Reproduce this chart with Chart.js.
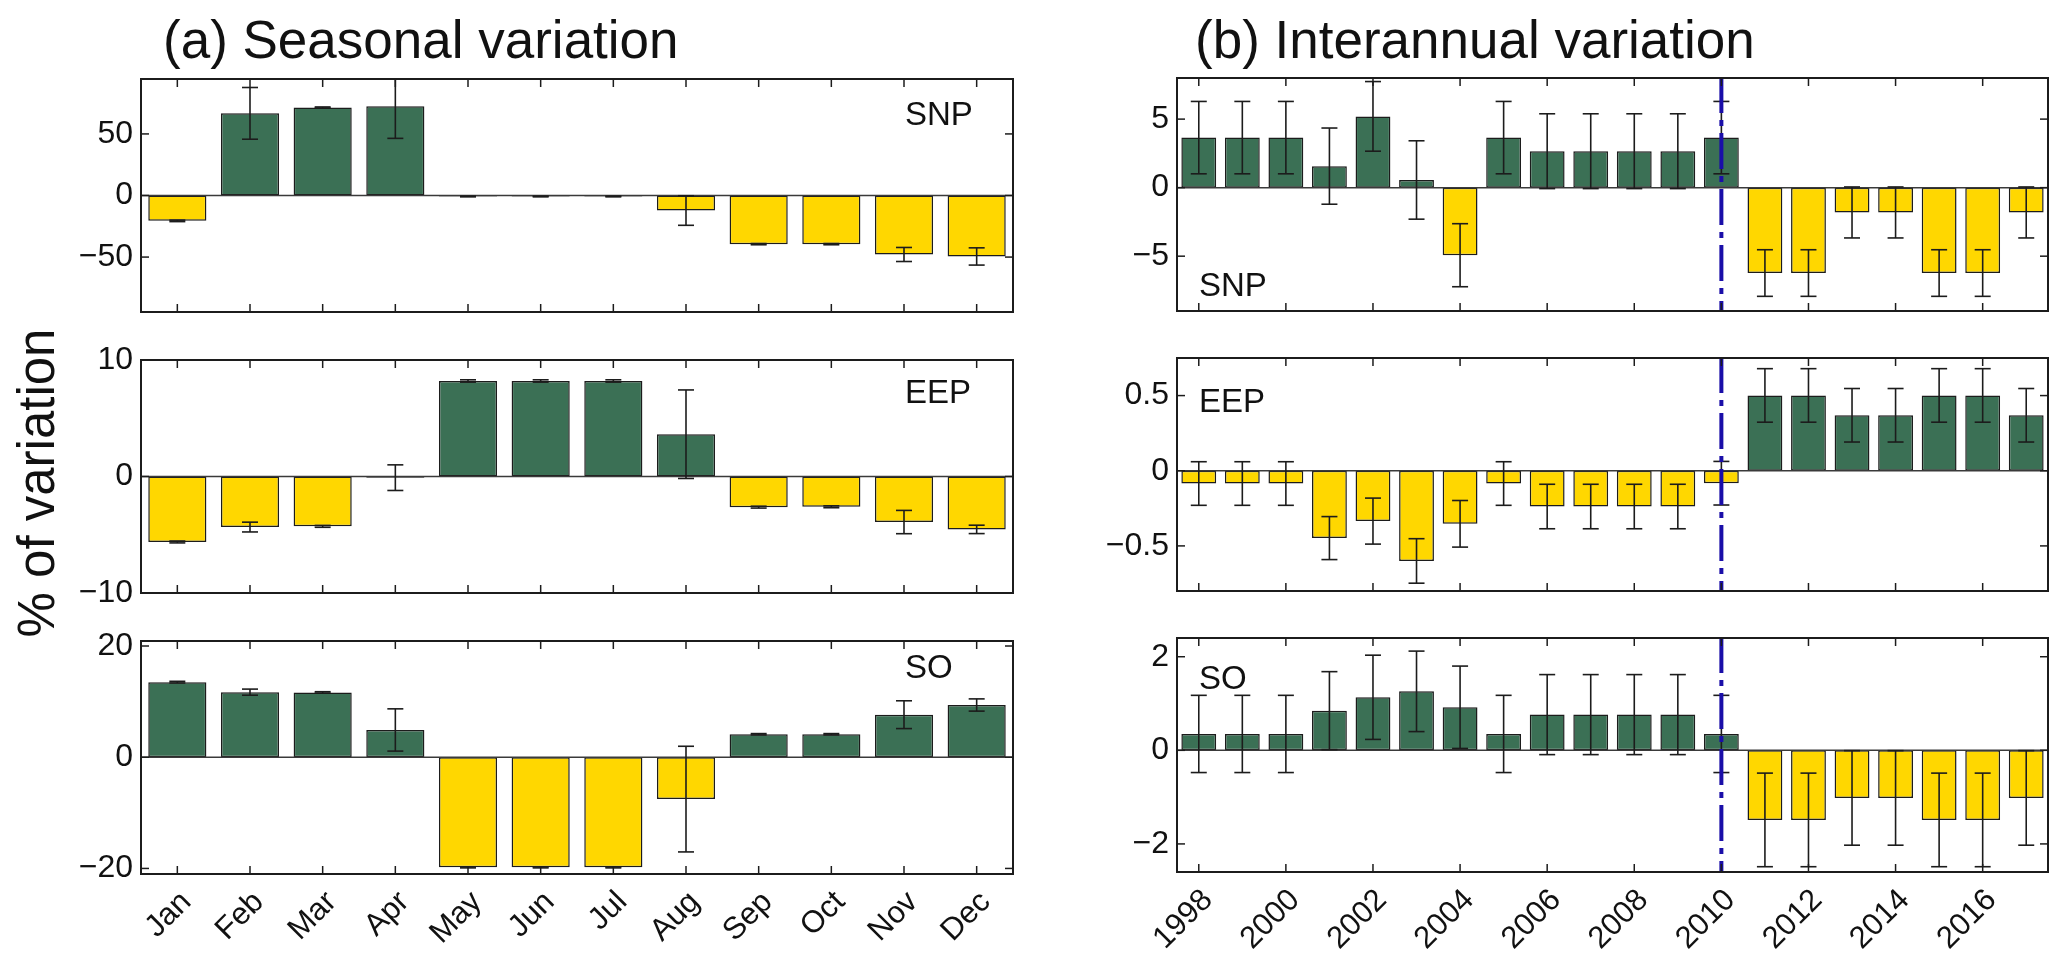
<!DOCTYPE html>
<html>
<head>
<meta charset="utf-8">
<script src="https://cdn.jsdelivr.net/npm/chart.js@4.4.1/dist/chart.umd.min.js"></script>
<style>
  body { margin: 0; background: #fff; width: 2067px; height: 974px; position: relative; overflow: hidden;
         font-family: "Liberation Sans", Arial, sans-serif; color: #111; }
  canvas { position: absolute; }
  .title { position: absolute; font-size: 53px; line-height: 53px; white-space: nowrap; }
  #ylab { position: absolute; left: -163px; top: 453px; width: 400px; height: 60px; line-height: 60px;
          text-align: center; font-size: 51px; white-space: nowrap; transform: rotate(-90deg); }
</style>
</head>
<body>
<div class="title" style="left:163px;top:13px">(a) Seasonal variation</div>
<div class="title" style="left:1195px;top:13px">(b) Interannual variation</div>
<div id="ylab">% of variation</div>

<script>
// categories
const months = ["Jan", "Feb", "Mar", "Apr", "May", "Jun", "Jul", "Aug", "Sep", "Oct", "Nov", "Dec"];
const years = ["1998", "1999", "2000", "2001", "2002", "2003", "2004", "2005", "2006", "2007",
               "2008", "2009", "2010", "2011", "2012", "2013", "2014", "2015", "2016", "2017"];

// (a) seasonal variation, % of variation and error half-widths
const seasonSNP    = [-20.6, 66.7, 71.5, 72.4, -0.8, -0.8, -0.8, -12.2, -39.5, -39.5, -47.9, -49.5];
const seasonSNPErr = [0.6, 21, 0.4, 26, 0.3, 0.3, 0.3, 12, 0.5, 0.5, 5.7, 7];
const seasonEEP    = [-5.62, -4.34, -4.28, -0.1, 8.2, 8.2, 8.2, 3.63, -2.63, -2.6, -3.91, -4.54];
const seasonEEPErr = [0.08, 0.42, 0.08, 1.1, 0.1, 0.1, 0.1, 3.8, 0.08, 0.08, 1.0, 0.36];
const seasonSO     = [13.5, 11.7, 11.66, 4.9, -19.8, -19.8, -19.8, -7.53, 4.13, 4.13, 7.65, 9.39];
const seasonSOErr  = [0.15, 0.55, 0.12, 3.8, 0.1, 0.1, 0.1, 9.5, 0.12, 0.12, 2.5, 1.1];

// (b) interannual variation
const annualSNP    = [3.65, 3.65, 3.65, 1.57, 5.2, 0.56, -4.93, 3.65, 2.66, 2.66,
                      2.66, 2.66, 3.65, -6.23, -6.23, -1.81, -1.81, -6.23, -6.23, -1.81];
const annualSNPErr = [2.64, 2.64, 2.64, 2.78, 2.54, 2.86, 2.3, 2.64, 2.73, 2.73,
                      2.73, 2.73, 2.64, 1.7, 1.7, 1.86, 1.86, 1.7, 1.7, 1.86];
const annualEEP    = [-0.085, -0.085, -0.085, -0.448, -0.335, -0.6, -0.353, -0.085, -0.238, -0.238,
                      -0.238, -0.238, -0.083, 0.501, 0.501, 0.369, 0.369, 0.501, 0.501, 0.369];
const annualEEPErr = [0.145, 0.145, 0.145, 0.143, 0.153, 0.148, 0.155, 0.145, 0.148, 0.148,
                      0.148, 0.148, 0.145, 0.178, 0.178, 0.178, 0.178, 0.178, 0.178, 0.178];
const annualSO     = [0.35, 0.35, 0.35, 0.848, 1.133, 1.26, 0.92, 0.35, 0.763, 0.763,
                      0.763, 0.763, 0.35, -1.487, -1.487, -1.017, -1.017, -1.487, -1.487, -1.017];
const annualSOErr  = [0.825, 0.825, 0.825, 0.833, 0.9, 0.86, 0.88, 0.825, 0.855, 0.855,
                      0.855, 0.855, 0.825, 1.0, 1.0, 1.01, 1.01, 1.0, 1.0, 1.01];

// y tick labels per panel
const ticksSeasonSNP = [-50, 0, 50];
const ticksSeasonEEP = [-10, 0, 10];
const ticksSeasonSO  = [-20, 0, 20];
const ticksAnnualSNP = [-5, 0, 5];
const ticksAnnualEEP = [-0.5, 0, 0.5];
const ticksAnnualSO  = [-2, 0, 2];

const splitYear = "2010";

const FONT = '"Liberation Sans", Arial, sans-serif';
const GREEN = "#3b7055";
const YELLOW = "#ffd700";
const INK = "#1c1c1c";
const YW = 120, PADT = 24, PADR = 8;

// panel boxes in page pixels: [left, top, right, bottom]
const panels = [
  { labels: months, values: seasonSNP, errs: seasonSNPErr, ticks: ticksSeasonSNP, min: -94.6, max: 94.6,
    box: [141, 79, 1013, 312], name: "SNP", nameX: 764, nameY: 37, bottom: false, every: 1 },
  { labels: months, values: seasonEEP, errs: seasonEEPErr, ticks: ticksSeasonEEP, min: -10, max: 10,
    box: [141, 360, 1013, 593], name: "EEP", nameX: 764, nameY: 34, bottom: false, every: 1 },
  { labels: months, values: seasonSO, errs: seasonSOErr, ticks: ticksSeasonSO, min: -21, max: 20.9,
    box: [141, 641, 1013, 874], name: "SO", nameX: 764, nameY: 28, bottom: true, every: 1 },
  { labels: years, values: annualSNP, errs: annualSNPErr, ticks: ticksAnnualSNP, min: -9, max: 8,
    box: [1177, 78, 2048, 311], name: "SNP", nameX: 22, nameY: 209, bottom: false, every: 2, split: true },
  { labels: years, values: annualEEP, errs: annualEEPErr, ticks: ticksAnnualEEP, min: -0.8, max: 0.75,
    box: [1177, 358, 2048, 591], name: "EEP", nameX: 22, nameY: 45, bottom: false, every: 2, split: true },
  { labels: years, values: annualSO, errs: annualSOErr, ticks: ticksAnnualSO, min: -2.6, max: 2.4,
    box: [1177, 638, 2048, 872], name: "SO", nameX: 22, nameY: 42, bottom: true, every: 2, split: true }
];

function fmt(v) {
  return v < 0 ? "\u2212" + Math.abs(v) : String(v);
}

function seg(ctx, x1, y1, x2, y2) {
  ctx.beginPath();
  ctx.moveTo(x1, y1);
  ctx.lineTo(x2, y2);
  ctx.stroke();
}

function drawPanel(chart, p) {
  const ctx = chart.ctx;
  const a = chart.chartArea;
  const xs = chart.scales.x, ys = chart.scales.y;
  const meta = chart.getDatasetMeta(0);
  ctx.save();

  // zero line
  const y0 = ys.getPixelForValue(0);
  ctx.strokeStyle = "#3a3a3a";
  ctx.lineWidth = 1.5;
  seg(ctx, a.left, y0, a.right, y0);

  // error bars, clipped to the axes box
  ctx.save();
  ctx.beginPath();
  ctx.rect(a.left, a.top, a.right - a.left, a.bottom - a.top);
  ctx.clip();
  ctx.strokeStyle = INK;
  ctx.lineWidth = 1.6;
  const cap = 8;
  p.values.forEach((v, i) => {
    const x = meta.data[i].x;
    const yt = ys.getPixelForValue(v + p.errs[i]);
    const yb = ys.getPixelForValue(v - p.errs[i]);
    seg(ctx, x, yt, x, yb);
    seg(ctx, x - cap, yt, x + cap, yt);
    seg(ctx, x - cap, yb, x + cap, yb);
  });
  ctx.restore();

  // dash-dot marker at the split year
  if (p.split) {
    const xb = xs.getPixelForValue(p.labels.indexOf(splitYear));
    ctx.save();
    ctx.strokeStyle = "#1a0ea8";
    ctx.lineWidth = 4;
    ctx.setLineDash([36, 7, 6, 7]);
    seg(ctx, xb, a.top - 1, xb, a.bottom);
    ctx.restore();
  }

  // axes box
  ctx.strokeStyle = INK;
  ctx.lineWidth = 2;
  ctx.strokeRect(a.left, a.top, a.right - a.left, a.bottom - a.top);

  // inward tick marks on all four sides
  ctx.lineWidth = 1.5;
  const tl = 8;
  p.labels.forEach((l, i) => {
    if (i % p.every !== 0) return;
    const x = xs.getPixelForValue(i);
    seg(ctx, x, a.bottom, x, a.bottom - tl);
    seg(ctx, x, a.top, x, a.top + tl);
  });
  p.ticks.forEach(v => {
    const y = ys.getPixelForValue(v);
    seg(ctx, a.left, y, a.left + tl, y);
    seg(ctx, a.right, y, a.right - tl, y);
  });

  // region label
  ctx.fillStyle = "#111";
  ctx.font = "33px " + FONT;
  ctx.textAlign = "left";
  ctx.textBaseline = "middle";
  ctx.fillText(p.name, a.left + p.nameX, a.top + p.nameY);
  ctx.restore();
}

panels.forEach((p, k) => {
  const [l, t, r, b] = p.box;
  const XH = p.bottom ? 110 : 24;
  const cv = document.createElement("canvas");
  cv.width = (r - l) + YW + PADR;
  cv.height = (b - t) + PADT + XH;
  cv.style.left = (l - YW) + "px";
  cv.style.top = (t - PADT) + "px";
  document.body.appendChild(cv);

  new Chart(cv.getContext("2d"), {
    type: "bar",
    data: {
      labels: p.labels,
      datasets: [{
        data: p.values,
        backgroundColor: p.values.map(v => v >= 0 ? GREEN : YELLOW),
        borderColor: INK,
        borderWidth: 1.5,
        borderSkipped: false,
        barPercentage: 0.8,
        categoryPercentage: 1.0
      }]
    },
    options: {
      responsive: false,
      animation: false,
      events: [],
      layout: { padding: { top: PADT, right: PADR, left: 0, bottom: 0 } },
      plugins: { legend: { display: false }, tooltip: { enabled: false } },
      scales: {
        x: {
          grid: { display: false, drawTicks: false },
          border: { display: false },
          ticks: {
            display: p.bottom,
            autoSkip: false,
            maxRotation: 45,
            minRotation: 45,
            padding: 10,
            labelOffset: 9,
            color: "#111",
            font: { size: 31, family: FONT },
            callback: (v, i) => (i % p.every === 0 ? p.labels[i] : "")
          },
          afterFit: s => {
            s.height = XH;
            s.paddingLeft = 0;
            s.paddingRight = 0;
          }
        },
        y: {
          min: p.min,
          max: p.max,
          grid: { display: false, drawTicks: false },
          border: { display: false },
          afterBuildTicks: s => { s.ticks = p.ticks.map(v => ({ value: v })); },
          ticks: {
            padding: 8,
            color: "#111",
            font: { size: 32, family: FONT },
            callback: v => fmt(v)
          },
          afterFit: s => {
            s.width = YW;
            s.paddingTop = 0;
            s.paddingBottom = 0;
          }
        }
      }
    },
    plugins: [{ id: "panel" + k, afterDatasetsDraw: chart => drawPanel(chart, p) }]
  });
});
</script>
</body>
</html>
